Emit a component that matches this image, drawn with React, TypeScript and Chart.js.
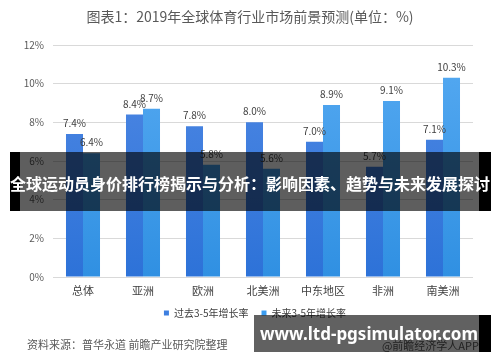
import React, { useEffect, useRef } from "react";
import { Chart, registerables } from "chart.js";

Chart.register(...registerables);

const categories = ["总体", "亚洲", "欧洲", "北美洲", "中东地区", "非洲", "南美洲"];
const pastGrowth = [7.4, 8.4, 7.8, 8.0, 7.0, 5.7, 7.1];
const futureGrowth = [6.4, 8.7, 5.8, 5.6, 8.9, 9.1, 10.3];
const seriesNames = ["过去3-5年增长率", "未来3-5年增长率"];
const yMax = 12;
const yStep = 2;

const titleText = "图表1：2019年全球体育行业市场前景预测(单位：%)";
const sourceText = "资料来源：普华永道 前瞻产业研究院整理";
const creditText = "@前瞻经济学人APP";
const bannerText = "全球运动员身价排行榜揭示与分析：影响因素、趋势与未来发展探讨";
const siteText = "www.ltd-pgsimulator.com";

const FONT = '"Noto Sans CJK SC", "Noto Sans", sans-serif';
const pastColors = ["#5089e4", "#2d72d8"];
const futureColors = ["#56aaf2", "#3090e2"];

function gradient(colors: string[]) {
  return (ctx: any) => {
    const chart = ctx.chart;
    const area = chart.chartArea;
    if (!area) return colors[0];
    const g = chart.ctx.createLinearGradient(0, area.top, 0, area.bottom);
    g.addColorStop(0, colors[0]);
    g.addColorStop(1, colors[1]);
    return g;
  };
}

const valueLabels = {
  id: "valueLabels",
  afterDatasetsDraw(chart: any) {
    const ctx = chart.ctx;
    ctx.save();
    ctx.font = `10px ${FONT}`;
    ctx.fillStyle = "#404040";
    ctx.textAlign = "center";
    ctx.textBaseline = "alphabetic";
    chart.data.datasets.forEach((ds: any, i: number) => {
      const meta = chart.getDatasetMeta(i);
      meta.data.forEach((bar: any, j: number) => {
        ctx.fillText(Number(ds.data[j]).toFixed(1) + "%", bar.x, bar.y - 7);
      });
    });
    ctx.restore();
  },
};

// place the title and legend rows where the reference has them
const boxPlacement = {
  id: "boxPlacement",
  afterLayout(chart: any) {
    const t = chart.titleBlock;
    if (t) {
      t.left = 0;
      t.right = 500;
    }
    const l = chart.legend;
    if (l) {
      const h = l.height;
      l.left = 37;
      l.right = 473;
      l.top = 295;
      l.bottom = 295 + h;
    }
  },
};

export default function App() {
  const ref = useRef<HTMLCanvasElement | null>(null);

  useEffect(() => {
    if (!ref.current) return;
    const chart = new Chart(ref.current, {
      type: "bar",
      data: {
        labels: categories,
        datasets: [
          {
            label: seriesNames[0],
            data: pastGrowth,
            backgroundColor: gradient(pastColors),
            categoryPercentage: 0.567,
            barPercentage: 1,
          },
          {
            label: seriesNames[1],
            data: futureGrowth,
            backgroundColor: gradient(futureColors),
            categoryPercentage: 0.567,
            barPercentage: 1,
          },
        ],
      },
      options: {
        responsive: false,
        animation: false,
        layout: { padding: { left: 0, right: 27, top: 0, bottom: 28 } },
        scales: {
          x: {
            grid: { display: false, drawTicks: false },
            border: { display: false },
            ticks: { color: "#404040", font: { size: 11, family: FONT }, padding: 7 },
            afterFit: (s: any) => {
              s.height = 24;
            },
          },
          y: {
            min: 0,
            max: yMax,
            ticks: {
              stepSize: yStep,
              color: "#595959",
              font: { size: 10, family: FONT },
              padding: 9,
              callback: (v: any) => v + "%",
            },
            grid: { color: "#d9d9d9", drawTicks: false },
            border: { display: false },
            afterFit: (s: any) => {
              s.width = 53;
            },
          },
        },
        plugins: {
          title: {
            display: true,
            text: titleText,
            color: "#595959",
            font: { size: 14, family: FONT, weight: "normal", lineHeight: 1.2 },
            padding: { top: 8.6, bottom: 19.6 },
            fullSize: true,
          },
          tooltip: { enabled: false },
          legend: {
            position: "bottom",
            labels: {
              boxWidth: 5,
              boxHeight: 5,
              padding: 13,
              color: "#404040",
              font: { size: 10, family: FONT },
              generateLabels: () =>
                seriesNames.map((n, i) => ({
                  text: n,
                  fillStyle: i === 0 ? "#3d7fe0" : "#3a9cf0",
                  strokeStyle: "transparent",
                  lineWidth: 0,
                  datasetIndex: i,
                  fontColor: "#404040",
                })),
            },
          },
        },
      },
      plugins: [valueLabels, boxPlacement],
    } as any);
    return () => chart.destroy();
  }, []);

  return (
    <div
      style={{
        position: "fixed",
        left: 0,
        top: 0,
        width: 500,
        height: 362,
        background: "#fff",
        overflow: "hidden",
        fontFamily: FONT,
      }}
    >
      <canvas ref={ref} width={500} height={362} style={{ position: "absolute", left: 0, top: 0, display: "block" }} />
      <div
        style={{
          position: "absolute",
          left: 27,
          top: 336,
          fontSize: 11,
          lineHeight: "16px",
          color: "#595959",
          whiteSpace: "nowrap",
        }}
      >
        {sourceText}
      </div>
      <div
        style={{
          position: "absolute",
          right: 21,
          top: 337,
          fontSize: 11,
          lineHeight: "16px",
          color: "#595959",
          whiteSpace: "nowrap",
        }}
      >
        {creditText}
      </div>
      {/* banner overlay */}
      <div style={{ position: "absolute", left: 10, top: 152, width: 10, height: 59, background: "#000" }} />
      <div style={{ position: "absolute", left: 479, top: 152, width: 12, height: 59, background: "#000" }} />
      <div style={{ position: "absolute", left: 20, top: 152, width: 459, height: 59, background: "rgba(0,0,0,0.63)" }} />
      <div
        style={{
          position: "absolute",
          left: 0,
          top: 171,
          width: 500,
          textAlign: "center",
          fontSize: 16,
          lineHeight: "24px",
          fontWeight: 700,
          color: "#fff",
          whiteSpace: "nowrap",
        }}
      >
        {bannerText}
      </div>
      {/* site overlay */}
      <div style={{ position: "absolute", left: 254, top: 315, width: 225, height: 37, background: "rgba(0,0,0,0.62)" }} />
      <div style={{ position: "absolute", left: 479, top: 315, width: 12, height: 37, background: "#000" }} />
      <div
        style={{
          position: "absolute",
          left: 254,
          top: 322,
          width: 225,
          textAlign: "right",
          paddingRight: 1,
          boxSizing: "border-box",
          fontSize: 17,
          lineHeight: "24px",
          fontWeight: 700,
          color: "#fff",
          whiteSpace: "nowrap",
          fontFamily: '"Noto Sans", sans-serif',
        }}
      >
        {siteText}
      </div>
    </div>
  );
}
